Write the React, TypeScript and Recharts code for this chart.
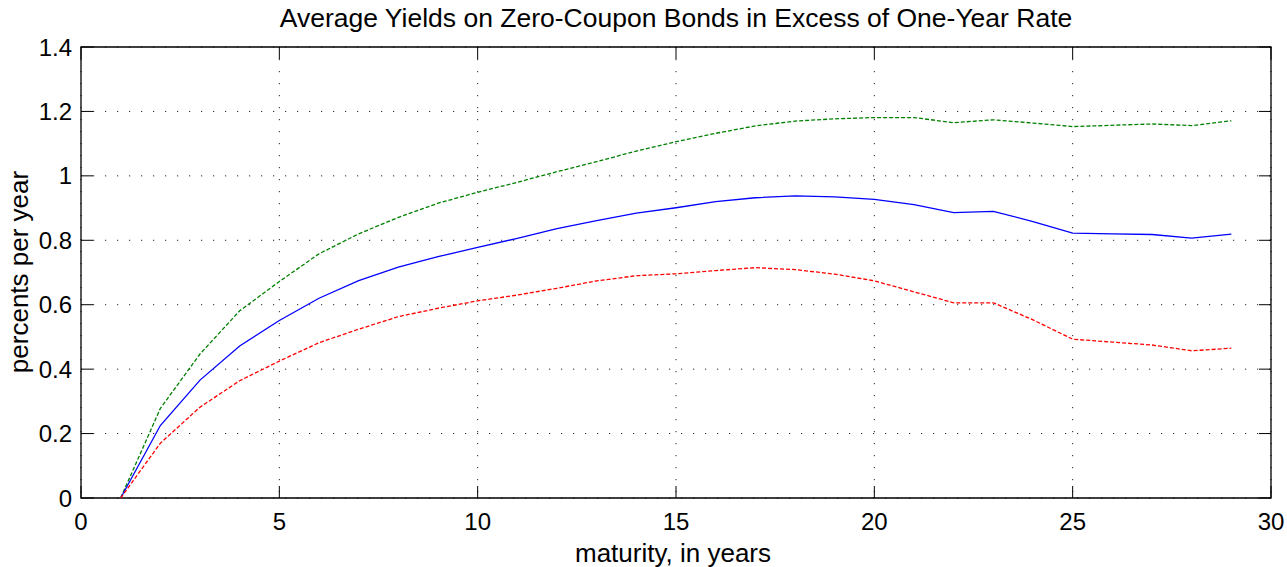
import React from 'react';
import { LineChart, Line, XAxis, YAxis, CartesianGrid, ReferenceArea } from 'recharts';

const maturity = [1, 2, 3, 4, 5, 6, 7, 8, 9, 10, 11, 12, 13, 14, 15, 16, 17, 18, 19, 20, 21, 22, 23, 24, 25, 26, 27, 28, 29];
const meanYield = [0, 0.225, 0.366, 0.472, 0.551, 0.62, 0.675, 0.717, 0.749, 0.778, 0.806, 0.836, 0.861, 0.884, 0.901, 0.92, 0.932, 0.938, 0.935, 0.927, 0.911, 0.886, 0.89, 0.858, 0.822, 0.82, 0.818, 0.807, 0.819];
const upperBand = [0, 0.278, 0.447, 0.581, 0.672, 0.758, 0.82, 0.871, 0.915, 0.949, 0.98, 1.013, 1.044, 1.077, 1.106, 1.132, 1.155, 1.17, 1.177, 1.181, 1.181, 1.165, 1.174, 1.164, 1.153, 1.157, 1.161, 1.156, 1.171];
const lowerBand = [0, 0.17, 0.282, 0.364, 0.425, 0.482, 0.524, 0.563, 0.589, 0.612, 0.63, 0.651, 0.674, 0.69, 0.696, 0.706, 0.715, 0.709, 0.695, 0.674, 0.64, 0.606, 0.606, 0.553, 0.493, 0.484, 0.475, 0.457, 0.465];
const xTicks = [0, 5, 10, 15, 20, 25, 30];
const yTicks = [0, 0.2, 0.4, 0.6, 0.8, 1, 1.2, 1.4];

const W = 1287;
const H = 567;
const LEFT = 81;
const RIGHT = 1271;
const TOP = 47;
const BOTTOM = 498;
const FONT = '"Liberation Sans", Arial, Helvetica, sans-serif';

const rows = maturity.map((m, i) => ({ m, mean: meanYield[i], hi: upperBand[i], lo: lowerBand[i] }));

const XTick = (props: any) => {
  const { x, payload } = props;
  return (
    <g>
      <line x1={x} x2={x} y1={BOTTOM} y2={BOTTOM - 12} stroke="#000" strokeWidth={1} />
      <line x1={x} x2={x} y1={TOP} y2={TOP + 12} stroke="#000" strokeWidth={1} />
      <text x={x} y={BOTTOM + 32} textAnchor="middle" fontSize={24} fontFamily={FONT} fill="#000">{payload.value}</text>
    </g>
  );
};

const YTick = (props: any) => {
  const { y, payload } = props;
  return (
    <g>
      <line x1={LEFT} x2={LEFT + 12} y1={y} y2={y} stroke="#000" strokeWidth={1} />
      <line x1={RIGHT} x2={RIGHT - 12} y1={y} y2={y} stroke="#000" strokeWidth={1} />
      <text x={LEFT - 9} y={y + 8.5} textAnchor="end" fontSize={24} fontFamily={FONT} fill="#000">{String(payload.value)}</text>
    </g>
  );
};

export default function App() {
  return (
    <div style={{ position: 'absolute', left: 0, top: 0, width: W, height: H, background: '#fff' }}>
      <div style={{ position: 'absolute', left: 0, top: 3, width: 1352, textAlign: 'center', fontFamily: FONT, fontSize: 26.5, color: '#000', lineHeight: '30px' }}>
        Average Yields on Zero-Coupon Bonds in Excess of One-Year Rate
      </div>
      <LineChart width={W} height={H} data={rows} margin={{ top: TOP, right: W - RIGHT, left: 0, bottom: 0 }}>
        <CartesianGrid stroke="#222" strokeDasharray="1.2 10.8" strokeWidth={1} />
        <XAxis
          dataKey="m"
          type="number"
          domain={[0, 30]}
          ticks={xTicks}
          height={H - BOTTOM}
          axisLine={false}
          tickLine={false}
          tickSize={0}
          tickMargin={0}
          tick={<XTick />}
          interval={0}
          label={{
            value: 'maturity, in years',
            content: () => (
              <text x={673} y={562} textAnchor="middle" fontSize={26} fontFamily={FONT} fill="#000">maturity, in years</text>
            ),
          }}
        />
        <YAxis
          type="number"
          domain={[0, 1.4]}
          ticks={yTicks}
          width={LEFT}
          axisLine={false}
          tickLine={false}
          tickSize={0}
          tickMargin={0}
          tick={<YTick />}
          interval={0}
          label={{
            value: 'percents per year',
            content: () => (
              <text x={28} y={272} transform="rotate(-90 28 272)" textAnchor="middle" fontSize={26} fontFamily={FONT} fill="#000">percents per year</text>
            ),
          }}
        />
        <ReferenceArea x1={0} x2={30} y1={0} y2={1.4} fill="none" stroke="#000" strokeWidth={1.3} ifOverflow="visible" />
        <Line type="linear" dataKey="hi" stroke="#008000" strokeWidth={1.3} strokeDasharray="4 2" dot={false} isAnimationActive={false} />
        <Line type="linear" dataKey="mean" stroke="#0000ff" strokeWidth={1.3} dot={false} isAnimationActive={false} />
        <Line type="linear" dataKey="lo" stroke="#ff0000" strokeWidth={1.3} strokeDasharray="4 2" dot={false} isAnimationActive={false} />
      </LineChart>
    </div>
  );
}
